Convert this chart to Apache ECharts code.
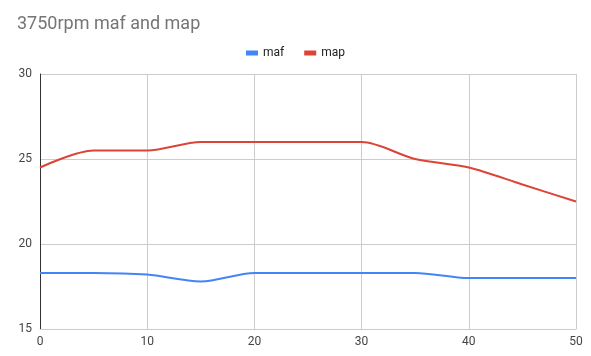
<!DOCTYPE html>
<html><head><meta charset="utf-8">
<script src="https://cdn.jsdelivr.net/npm/echarts@6/dist/echarts.min.js"></script>
<style>html,body{margin:0;padding:0;background:#fff}#c{width:591px;height:356px}</style>
</head><body><div id="c"></div>
<script>
const xs = [0, 5, 10, 15, 20, 25, 30, 35, 40, 45, 50];
const maf = [18.3, 18.3, 18.2, 17.8, 18.3, 18.3, 18.3, 18.3, 18.0, 18.0, 18.0];
const map = [24.5, 25.5, 25.5, 26.0, 26.0, 26.0, 26.0, 25.0, 24.5, 23.5, 22.5];
const xTicks = [0, 10, 20, 30, 40, 50];
const yTicks = [15, 20, 25, 30];

const chart = echarts.init(document.getElementById('c'), null, {renderer: 'canvas'});
chart.setOption({
  animation: false,
  backgroundColor: '#fff',
  textStyle: {fontFamily: 'Roboto'},
  title: {text: '3750rpm maf and map', left: 12, top: 10,
    textStyle: {fontFamily: 'Roboto', fontSize: 18, fontWeight: 'normal', color: '#757575'}},
  legend: {top: 42, left: 'center', itemWidth: 12, itemHeight: 5, itemGap: 20,
    icon: 'rect',
    textStyle: {fontFamily: 'Roboto', fontSize: 12, color: '#222'},
    data: ['maf', 'map']},
  grid: {left: 40, right: 15, top: 74, bottom: 27},
  xAxis: {type: 'value', min: xTicks[0], max: xTicks[xTicks.length-1], interval: 10,
    axisLine: {show: true, lineStyle: {color: '#ccc'}},
    axisTick: {show: false},
    axisLabel: {color: '#444', fontSize: 12, margin: 7},
    splitLine: {show: true, lineStyle: {color: '#ccc'}}},
  yAxis: {type: 'value', min: yTicks[0], max: yTicks[yTicks.length-1], interval: 5,
    axisLine: {show: true, lineStyle: {color: '#333'}},
    axisTick: {show: false},
    axisLabel: {color: '#444', fontSize: 12, margin: 8},
    splitLine: {show: true, lineStyle: {color: '#ccc'}}},
  series: [
    {name: 'maf', type: 'line', smooth: 0.3, showSymbol: false, symbol: 'none',
     data: xs.map((x, i) => [x, maf[i]]), color: '#4285f4',
     lineStyle: {width: 2, color: '#4285f4'}},
    {name: 'map', type: 'line', smooth: 0.3, showSymbol: false, symbol: 'none',
     data: xs.map((x, i) => [x, map[i]]), color: '#db4437',
     lineStyle: {width: 2, color: '#db4437'}}
  ]
});
</script></body></html>
